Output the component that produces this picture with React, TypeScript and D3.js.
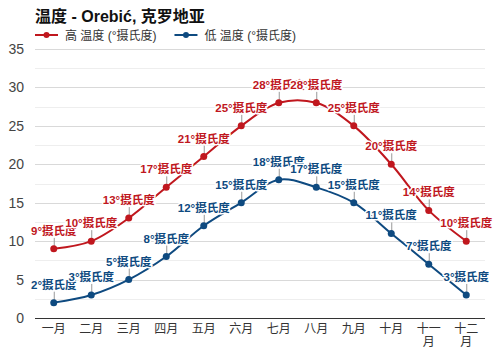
import { useEffect, useRef } from "react";
import * as d3 from "d3";

const months = ["一月", "二月", "三月", "四月", "五月", "六月", "七月", "八月", "九月", "十月", "十一月", "十二月"];
const highTemps = [9, 10, 13, 17, 21, 25, 28, 28, 25, 20, 14, 10];
const lowTemps = [2, 3, 5, 8, 12, 15, 18, 17, 15, 11, 7, 3];
const yTicks = [0, 5, 10, 15, 20, 25, 30, 35];
const seriesNames = ["高 温度 (°摄氏度)", "低 温度 (°摄氏度)"];
const unit = "°摄氏度";

const RED = "#c0171e";
const BLUE = "#0e4a80";
const FONT = "Arial, 'Liberation Sans', 'Noto Sans CJK SC', sans-serif";

const App = () => {
  const ref = useRef<SVGSVGElement | null>(null);

  useEffect(() => {
    if (!ref.current) return;
    const svg = d3.select(ref.current);
    svg.selectAll("*").remove();

    const margin = { top: 49, right: 15, bottom: 32, left: 35 };
    const W = 500, H = 350;
    const width = W - margin.left - margin.right;
    const height = H - margin.top - margin.bottom;

    svg.append("rect").attr("width", W).attr("height", H).attr("fill", "#fff");

    // titulo
    svg.append("text")
      .attr("x", 35).attr("y", 22)
      .style("font-family", FONT).style("font-size", "16px").style("font-weight", "700")
      .style("fill", "#111")
      .text("温度 - Orebić, 克罗地亚");

    // leyenda
    const legend = svg.append("g").attr("transform", "translate(35,35)");
    let lx = 0;
    [RED, BLUE].forEach((c, i) => {
      const g = legend.append("g").attr("transform", `translate(${lx},0)`);
      g.append("line").attr("x1", 0).attr("x2", 23).attr("y1", 0).attr("y2", 0)
        .attr("stroke", c).attr("stroke-width", 2);
      g.append("circle").attr("cx", 11.5).attr("cy", 0).attr("r", 3).attr("fill", c);
      const t = g.append("text").attr("x", 30).attr("y", 4.5)
        .style("font-family", FONT).style("font-size", "12px").style("fill", "#333")
        .text(seriesNames[i]);
      const w = (t.node() as SVGTextElement).getComputedTextLength();
      lx += 30 + w + 18;
    });

    const g = svg.append("g").attr("transform", `translate(${margin.left},${margin.top})`);

    const x = d3.scaleBand().domain(months).range([0, width]);
    const y = d3.scaleLinear().domain([0, 35]).range([height, 0]);
    const cx = (d: string) => (x(d) as number) + x.bandwidth() / 2;

    // grid menor
    const minor = d3.range(2.5, 35, 5);
    g.selectAll(".minor").data(minor).enter().append("line")
      .attr("x1", 0).attr("x2", width)
      .attr("y1", (d) => Math.round(y(d)) + 0.5).attr("y2", (d) => Math.round(y(d)) + 0.5)
      .attr("stroke", "#eeeeee").attr("stroke-width", 1);

    g.selectAll(".major").data(yTicks.filter((d) => d > 0)).enter().append("line")
      .attr("x1", 0).attr("x2", width)
      .attr("y1", (d) => Math.round(y(d)) + 0.5).attr("y2", (d) => Math.round(y(d)) + 0.5)
      .attr("stroke", "#d9d9d9").attr("stroke-width", 1);

    g.selectAll(".ylab").data(yTicks).enter().append("text")
      .attr("x", -11).attr("y", (d) => y(d) + 5)
      .attr("text-anchor", "end")
      .style("font-family", FONT).style("font-size", "14px").style("fill", "#444")
      .text((d) => d);

    // eje x
    g.append("line").attr("x1", 0).attr("x2", width)
      .attr("y1", height + 0.5).attr("y2", height + 0.5)
      .attr("stroke", "#333").attr("stroke-width", 1);

    const maxChars = Math.floor((x.bandwidth() * 0.9) / 12);
    months.forEach((m) => {
      const lines: string[] = [];
      for (let i = 0; i < m.length; i += maxChars) lines.push(m.slice(i, i + maxChars));
      const t = g.append("text")
        .attr("x", cx(m)).attr("y", height + 15)
        .attr("text-anchor", "middle")
        .style("font-family", FONT).style("font-size", "12px").style("fill", "#333");
      lines.forEach((l, i) => {
        t.append("tspan").attr("x", cx(m)).attr("dy", i === 0 ? 0 : 13).text(l);
      });
    });

    const line = d3.line<number>()
      .x((_, i) => cx(months[i]))
      .y((d) => y(d))
      .curve(d3.curveCatmullRom.alpha(0.5));

    const series = [
      { values: lowTemps, color: BLUE },
      { values: highTemps, color: RED },
    ];

    series.forEach((s) => {
      g.append("path").datum(s.values)
        .attr("fill", "none").attr("stroke", s.color).attr("stroke-width", 2)
        .attr("d", line);
    });

    series.forEach((s) => {
      const sg = g.append("g");
      s.values.forEach((v, i) => {
        const px = cx(months[i]);
        const py = y(v);
        sg.append("line").attr("x1", px + 0.5).attr("x2", px + 0.5)
          .attr("y1", py).attr("y2", py - 11)
          .attr("stroke", "#999").attr("stroke-width", 1);
        sg.append("circle").attr("cx", px).attr("cy", py).attr("r", 3.5).attr("fill", s.color);
      });
    });

    series.forEach((s) => {
      s.values.forEach((v, i) => {
        g.append("text")
          .attr("x", cx(months[i])).attr("y", y(v) - 14)
          .attr("text-anchor", "middle")
          .style("font-family", FONT).style("font-size", "11.5px").style("font-weight", "700")
          .style("fill", s.color)
          .style("stroke", "#fff").style("stroke-width", 3).style("stroke-linejoin", "round")
          .style("paint-order", "stroke")
          .text(`${v}${unit}`);
      });
    });
  }, []);

  return <svg ref={ref} width={500} height={350} style={{ position: "absolute", left: 0, top: 0 }} />;
};

export default App;
